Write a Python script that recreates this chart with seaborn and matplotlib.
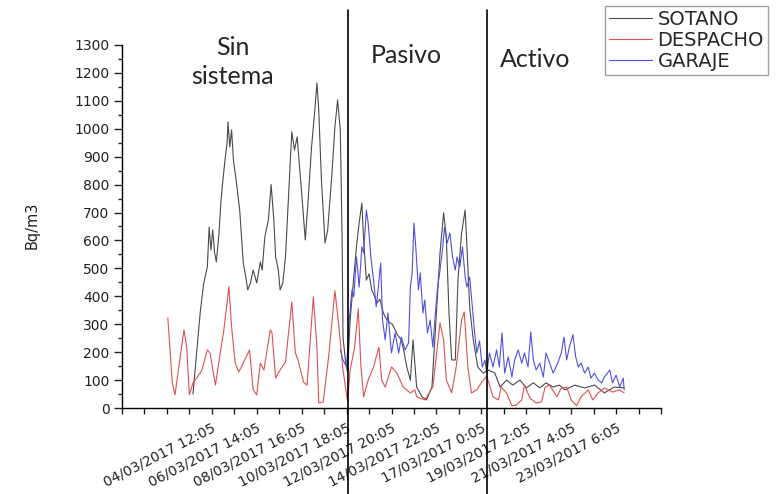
import matplotlib
matplotlib.use("Agg")
import matplotlib.pyplot as plt
from matplotlib.ticker import MultipleLocator, FixedLocator
import numpy as np
import pandas as pd
import seaborn as sns

# ---------------- data (hours since 28/02/2017 08:05, Bq/m3) ----------------
series_names = ["SOTANO", "DESPACHO", "GARAJE"]
series_colors = ["#4a4a4a", "#dc5252", "#5050e0"]

sotano_h = [79, 87, 91, 95, 97, 99, 101, 103, 105, 108, 110, 112, 115, 117, 118, 120, 122, 124,
            127, 131, 135, 137, 140, 143, 146, 150, 154, 156, 159, 163, 166, 169, 171, 174, 176,
            179, 182, 185, 189, 192, 195, 197, 200, 204, 207, 211, 214, 217, 219, 222, 226, 229,
            234, 237, 240, 243, 245, 246, 249, 251, 254, 258, 261, 264, 267, 269, 272, 275, 278,
            281, 284, 287, 291, 294, 298, 301, 304, 307, 311, 314, 317, 321, 324, 328, 334, 339,
            345, 350, 354, 358, 361, 364, 367, 371, 374, 378, 382, 384, 387, 391, 396, 402, 408,
            415, 421, 428, 435, 443, 450, 458, 465, 472, 480, 487, 493, 504, 515, 526, 537, 548, 559]
sotano_v = [50, 340, 448, 505, 648, 566, 638, 559, 523, 627, 734, 806, 899, 949, 1025, 935, 996, 889,
            817, 709, 519, 484, 423, 448, 494, 448, 523, 494, 613, 674, 800, 674, 541, 494, 423,
            448, 541, 734, 989, 924, 971, 889, 770, 602, 734, 935, 1043, 1164, 1067, 817, 591, 638,
            853, 1007, 1103, 996, 613, 254, 161, 130, 315, 469, 577, 663, 734, 602, 458, 480, 423,
            400, 376, 390, 340, 320, 305, 300, 280, 260, 244, 200, 147, 100, 244, 75, 40, 29,
            75, 340, 555, 699, 613, 340, 172, 172, 458, 627, 709, 577, 362, 244, 147, 125, 136,
            125, 75, 100, 82, 100, 72, 90, 72, 90, 75, 82, 65, 82, 72, 82, 54, 75, 72]

despacho_h = [51, 56, 59, 69, 72, 75, 79, 84, 89, 95, 98, 104, 111, 113, 119, 122, 126, 130, 134, 142,
              146, 150, 154, 158, 165, 167, 171, 176, 182, 189, 193, 196, 202, 206, 213, 217, 219, 224,
              230, 237, 241, 246, 251, 254, 259, 263, 266, 269, 274, 280, 286, 289, 293, 300, 306, 313,
              321, 326, 328, 337, 346, 354, 358, 361, 367, 372, 378, 381, 385, 389, 395, 400, 406, 413,
              419, 422, 428, 434, 439, 445, 448, 454, 461, 467, 471, 476, 484, 489, 495, 500, 506, 511,
              519, 524, 530, 537, 546, 554, 559]
despacho_v = [322, 90, 47, 280, 218, 47, 90, 111, 136, 208, 197, 82, 233, 269, 435, 290, 161, 129, 154, 208,
              65, 47, 161, 136, 280, 269, 107, 136, 165, 380, 197, 172, 93, 82, 398, 218, 18, 22,
              183, 420, 305, 136, 25, 136, 218, 355, 147, 40, 100, 147, 218, 100, 75, 147, 125, 75,
              54, 65, 40, 29, 75, 305, 244, 100, 54, 147, 315, 344, 147, 54, 65, 90, 115, 40,
              29, 75, 54, 8, 11, 29, 82, 36, 18, 22, 75, 82, 40, 72, 75, 29, 8, 40,
              65, 29, 54, 72, 57, 65, 54]

garaje_h = [243, 246, 250, 253, 256, 258, 261, 264, 267, 269, 272, 274, 277, 280, 283, 285, 288, 290,
            293, 296, 300, 304, 308, 311, 315, 319, 321, 323, 325, 327, 330, 332, 335, 337, 340, 343,
            346, 348, 351, 354, 357, 359, 362, 365, 368, 371, 373, 376, 379, 382, 384, 387, 390, 393,
            395, 398, 401, 404, 406, 409, 413, 417, 420, 423, 426, 430, 434, 437, 441, 445, 448, 452,
            455, 458, 461, 465, 469, 472, 476, 480, 485, 489, 492, 495, 498, 502, 505, 508, 511, 515,
            519, 522, 526, 530, 534, 537, 543, 546, 550, 554, 558, 559]
garaje_v = [208, 172, 147, 315, 423, 398, 541, 433, 577, 555, 709, 663, 541, 458, 362, 423, 519, 315,
            244, 340, 197, 269, 197, 254, 208, 233, 433, 484, 663, 577, 423, 484, 340, 387, 269, 315,
            218, 305, 423, 494, 577, 648, 591, 627, 541, 494, 541, 505, 577, 469, 433, 469, 362, 254,
            197, 240, 147, 172, 125, 197, 147, 208, 147, 269, 125, 183, 111, 172, 208, 161, 197, 147,
            272, 172, 136, 161, 111, 197, 161, 125, 161, 197, 254, 172, 218, 262, 183, 147, 161, 125,
            147, 107, 125, 100, 90, 111, 136, 90, 118, 75, 107, 65]

tick_hours = list(range(0, 601, 25))
label_hours = [100, 150, 200, 250, 300, 350, 400, 450, 500, 550]
label_texts = ["04/03/2017 12:05", "06/03/2017 14:05", "08/03/2017 16:05", "10/03/2017 18:05",
               "12/03/2017 20:05", "14/03/2017 22:05", "17/03/2017 0:05", "19/03/2017 2:05",
               "21/03/2017 4:05", "23/03/2017 6:05"]
phase_bounds = [251.7, 406.1]
phase_names = ["Sin\nsistema", "Pasivo", "Activo"]
y_label = "Bq/m3"

# ---------------- build frame ----------------
frames = []
for name, hh, vv in zip(series_names,
                        [sotano_h, despacho_h, garaje_h],
                        [sotano_v, despacho_v, garaje_v]):
    assert len(hh) == len(vv), (name, len(hh), len(vv))
    frames.append(pd.DataFrame({"hours": hh, "value": vv, "series": name}))
df = pd.concat(frames, ignore_index=True)

# ---------------- plot ----------------
sns.set_style("ticks")
plt.rcParams["font.family"] = ["DejaVu Sans"]

W, H = 779, 494
fig = plt.figure(figsize=(W / 100, H / 100), dpi=100)
ax = fig.add_axes([122 / W, 1 - 408 / H, (661 - 122) / W, (408 - 45) / H])

sns.lineplot(data=df, x="hours", y="value", hue="series", hue_order=series_names,
             palette=dict(zip(series_names, series_colors)), estimator=None, sort=False,
             linewidth=0.8, ax=ax)

ax.set_xlim(0, 600)
ax.set_ylim(0, 1300)
for s in ["top", "right"]:
    ax.spines[s].set_visible(False)
for s in ["left", "bottom"]:
    ax.spines[s].set_linewidth(1.0)
    ax.spines[s].set_color("black")

ax.yaxis.set_major_locator(MultipleLocator(100))
ax.yaxis.set_minor_locator(MultipleLocator(50))
ax.tick_params(axis="y", which="major", length=6, width=1, direction="out",
               labelsize=10, pad=3, colors="#222222")
ax.tick_params(axis="y", which="minor", length=3, width=1, direction="out", color="#222222")

ax.xaxis.set_major_locator(FixedLocator(tick_hours))
ax.set_xticklabels([label_texts[label_hours.index(t)] if t in label_hours else "" for t in tick_hours])
ax.tick_params(axis="x", which="major", length=4, width=1, direction="out",
               labelsize=10, pad=5, colors="#222222", labelrotation=27)
fig.canvas.draw()
for lab in ax.get_xticklabels():
    lab.set_rotation(27)
    lab.set_horizontalalignment("right")
    lab.set_verticalalignment("top")
    lab.set_rotation_mode("anchor")

ax.set_xlabel("")
ax.set_ylabel(y_label, fontsize=10.5, color="#222222")
ax.yaxis.set_label_coords(-0.152, 0.504)

for xb in phase_bounds:
    ax.axvline(xb, ymin=-0.24, ymax=1.097, clip_on=False, color="black", lw=1.2)

txt_kw = dict(ha="center", va="top", fontsize=18, family="Lato", color="#262626")
fig.text(233 / W, 1 - 36 / H, phase_names[0], linespacing=1.3, **txt_kw)
fig.text(406 / W, 1 - 44 / H, phase_names[1], **txt_kw)
fig.text(535 / W, 1 - 48 / H, phase_names[2], **txt_kw)

handles, labels = ax.get_legend_handles_labels()
leg = ax.legend(handles, labels, loc="upper left", bbox_to_anchor=(605 / W, 1 - 6 / H),
                bbox_transform=fig.transFigure, frameon=True, fancybox=False,
                fontsize=14, handlelength=2.2, handletextpad=0.3, labelspacing=0.1,
                borderpad=0.2, borderaxespad=0)
leg.get_frame().set_edgecolor("#888888")
leg.get_frame().set_linewidth(1.0)
for line in leg.get_lines():
    line.set_linewidth(0.8)

fig.savefig("out.png", dpi=100)
